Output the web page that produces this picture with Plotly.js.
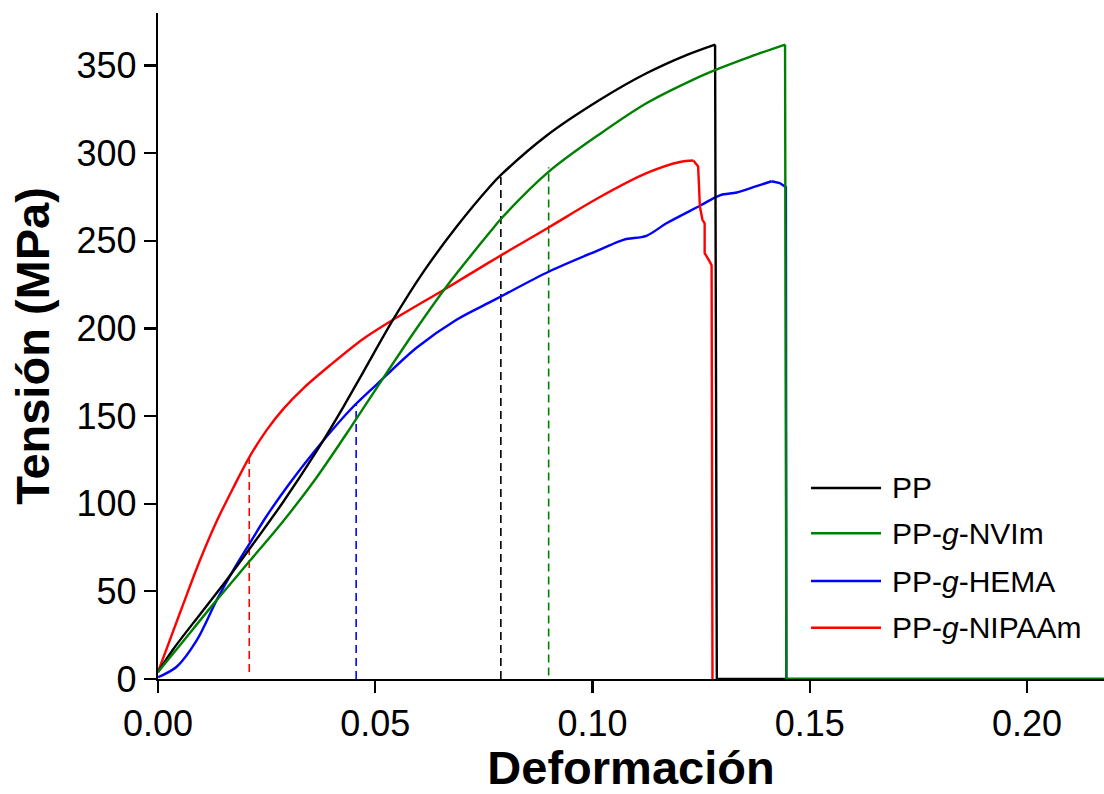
<!DOCTYPE html>
<html>
<head>
<meta charset="utf-8">
<script src="https://cdn.plot.ly/plotly-3.0.1.min.js"></script>
<style>html,body{margin:0;padding:0;background:#fff;}#chart{width:1104px;height:794px;}</style>
</head>
<body>
<div id="chart"></div>
<script>
// Series names and colours
var seriesNames = ["PP", "PP-<i>g</i>-NVIm", "PP-<i>g</i>-HEMA", "PP-<i>g</i>-NIPAAm"];
var seriesColors = ["#000000", "#008000", "#0000ff", "#ff0000"];

// PP (black)
var ppX = [0, 0.0035, 0.0097, 0.0158, 0.021, 0.0288, 0.0365, 0.0426, 0.0472, 0.0541, 0.061, 0.0687, 0.0764, 0.0791, 0.0894, 0.1017, 0.1124, 0.1216, 0.1282, 0.1286, 0.1290, 0.2177];
var ppY = [4, 17, 37, 56.5, 74, 101, 130, 155, 175, 205, 232, 258, 281, 288, 310, 330.5, 345.6, 356, 362, 0, 0, 0];

// PP-g-NVIm (green)
var nvimX = [0, 0.0043, 0.0135, 0.021, 0.0288, 0.0365, 0.0442, 0.0503, 0.0595, 0.0664, 0.0764, 0.0791, 0.09, 0.1017, 0.1124, 0.1232, 0.1293, 0.1362, 0.1443, 0.1446, 0.2177];
var nvimY = [4, 17, 45, 67, 90, 115, 143, 166, 200, 224, 255, 263, 289.6, 311, 328.5, 342, 348.5, 355, 362, 0, 0];

// PP-g-HEMA (blue)
var hemaX = [0, 0.0043, 0.0089, 0.0135, 0.0173, 0.021, 0.025, 0.0304, 0.0357, 0.0442, 0.0503, 0.0595, 0.0687, 0.0764, 0.0791, 0.09, 0.1017, 0.1071, 0.1124, 0.117, 0.1247, 0.1293, 0.1332, 0.137, 0.1412, 0.1431, 0.1445, 0.1446];
var hemaY = [1, 7, 22, 45, 62, 77, 93, 112, 129, 153.5, 168, 189, 205, 215, 218.5, 232.5, 245, 250.6, 252.9, 260, 270, 276, 277.6, 280.6, 284, 283, 280.6, 0];

// PP-g-NIPAAm (red)
var nipaamX = [0, 0.003, 0.006, 0.0097, 0.0135, 0.0173, 0.021, 0.025, 0.0288, 0.0335, 0.0396, 0.0472, 0.0541, 0.0664, 0.0764, 0.0791, 0.09, 0.1017, 0.1124, 0.1201, 0.1232, 0.1243, 0.1247, 0.1253, 0.1258, 0.1258, 0.1270, 0.1274, 0.1276];
var nipaamY = [4, 24, 44, 68, 90, 109, 126.5, 142, 154, 166, 179, 194, 205, 223, 238, 242, 257.8, 275, 288.6, 295, 295.8, 292.4, 269.6, 262, 260, 243, 238, 236, 0];

// Dashed markers (order: PP, NVIm, HEMA, NIPAAm)
var dashX = [0.0789, 0.0899, 0.0456, 0.021];
var dashBottom = [0, 2, 0, 4];
var dashTop = [288, 292, 157, 126.5];

// Axis ticks
var xTicks = [0, 0.05, 0.10, 0.15, 0.20];
var xTickText = ["0.00", "0.05", "0.10", "0.15", "0.20"];
var yTicks = [0, 50, 100, 150, 200, 250, 300, 350];

var FONT = "Liberation Sans, Arial, Helvetica, sans-serif";

var xs = [ppX, nvimX, hemaX, nipaamX];
var ys = [ppY, nvimY, hemaY, nipaamY];
var drawOrder = [2, 3, 0, 1];
var traces = [];
for (var k = 0; k < 4; k++) {
  traces.push({
    type: "scatter", mode: "lines",
    x: [dashX[k], dashX[k]], y: [dashBottom[k], dashTop[k]],
    line: {color: seriesColors[k], width: 1.6, dash: "8px,5px"},
    showlegend: false, hoverinfo: "skip"
  });
}
drawOrder.forEach(function (i) {
  var X = xs[i], Y = ys[i];
  // smooth loading part up to the maximum, straight segments for the failure drop
  var m = 0;
  for (var j = 1; j < Y.length; j++) if (Y[j] > Y[m]) m = j;
  traces.push({
    type: "scatter", mode: "lines", name: seriesNames[i],
    x: X.slice(0, m + 1), y: Y.slice(0, m + 1),
    line: {color: seriesColors[i], width: 2.4, shape: "spline", smoothing: 0.9},
    showlegend: false
  });
  traces.push({
    type: "scatter", mode: "lines", name: seriesNames[i],
    x: X.slice(m), y: Y.slice(m),
    line: {color: seriesColors[i], width: 2.4},
    showlegend: false
  });
});

// custom legend (paper coordinates)
var legY = [0.2868, 0.2188, 0.1471, 0.0770];
var shapes = [], annotations = [];
for (var i = 0; i < 4; i++) {
  shapes.push({type: "line", xref: "paper", yref: "paper",
    x0: 0.6903, x1: 0.7643, y0: legY[i], y1: legY[i],
    line: {color: seriesColors[i], width: 2.4}});
  annotations.push({xref: "paper", yref: "paper", x: 0.7738, y: legY[i],
    xanchor: "left", yanchor: "middle", showarrow: false,
    text: seriesNames[i], font: {family: FONT, size: 30, color: "#000"}});
}

var layout = {
  width: 1104, height: 794,
  margin: {l: 158, r: 0, t: 13, b: 115},
  paper_bgcolor: "#ffffff", plot_bgcolor: "#ffffff",
  font: {family: FONT, color: "#000"},
  xaxis: {
    range: [0, 0.2177], tickvals: xTicks, ticktext: xTickText,
    showline: true, linecolor: "#000", linewidth: 2.2, mirror: false,
    ticks: "outside", ticklen: 12, tickwidth: 2.2, tickcolor: "#000",
    showgrid: false, zeroline: false,
    tickfont: {family: FONT, size: 36, color: "#000"},
    title: {text: "Deformación", font: {family: FONT, size: 47, weight: "bold", color: "#000"}, standoff: 14},
    automargin: false
  },
  yaxis: {
    range: [0, 380], tickvals: yTicks,
    showline: true, linecolor: "#000", linewidth: 2.2, mirror: false,
    ticks: "outside", ticklen: 12, tickwidth: 2.2, tickcolor: "#000",
    showgrid: false, zeroline: false,
    tickfont: {family: FONT, size: 36, color: "#000"},
    title: {text: "Tensión (MPa)", font: {family: FONT, size: 47, weight: "bold", color: "#000"}, standoff: 12},
    automargin: false
  },
  shapes: shapes,
  annotations: annotations,
  showlegend: false
};

Plotly.newPlot("chart", traces, layout, {displayModeBar: false, staticPlot: true});
</script>
</body>
</html>
